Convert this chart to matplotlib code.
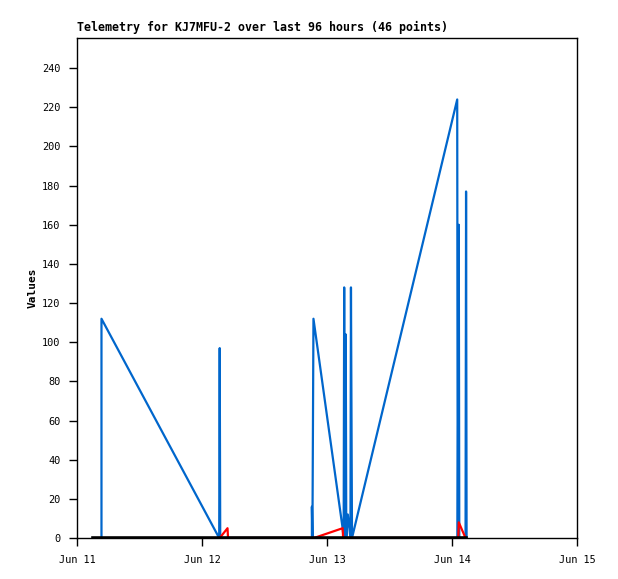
import matplotlib
matplotlib.use("Agg")
import matplotlib.pyplot as plt

title = "Telemetry for KJ7MFU-2 over last 96 hours (46 points)"
tick_hours = [0, 24, 48, 72, 96]
tick_labels = ["Jun 11", "Jun 12", "Jun 13", "Jun 14", "Jun 15"]
y_ticks = list(range(0, 241, 20))

# hours since Jun 11 00:00
blue_hours = [4.7, 4.7, 27.3, 27.4, 27.5, 45.1, 45.1, 45.2, 45.4, 51.0, 51.2,
              51.3, 51.4, 51.6, 51.7, 52.0, 52.5, 52.6, 52.8, 73.0, 73.1,
              73.3, 73.4, 74.6, 74.7, 74.8]
blue_values = [0, 112, 0, 97, 0, 0, 16, 0, 112, 5, 0,
               128, 0, 104, 0, 12, 0, 128, 0, 224, 0,
               160, 0, 0, 177, 0]

red_hours = [27.4, 28.9, 29.0, 45.5, 51.0, 51.1, 73.2, 73.3, 74.6]
red_values = [0, 5, 0, 0, 5, 0, 0, 8, 0]

black_hours = [3.0, 74.6]
black_values = [0, 0]

W, H = 618, 579
fig = plt.figure(figsize=(W / 100, H / 100), dpi=100)
ax = fig.add_axes([77 / W, 1 - 538 / H, 500 / W, 500 / H])

ax.plot(blue_hours, blue_values, color="#0066cc", lw=1.6, zorder=2)
ax.plot(red_hours, red_values, color="#ff0000", lw=1.6, zorder=3)
ax.plot(black_hours, black_values, color="#000000", lw=2.6, zorder=4)

ax.set_xlim(0, 96)
ax.set_ylim(0, 255.4)
ax.set_xticks(tick_hours)
ax.set_xticklabels(tick_labels)
ax.set_yticks(y_ticks)
ax.tick_params(direction="out", length=6, width=1, colors="black",
               labelsize=7.4, pad=6)
for lab in ax.get_xticklabels() + ax.get_yticklabels():
    lab.set_fontfamily("DejaVu Sans Mono")
for s in ax.spines.values():
    s.set_linewidth(1)
    s.set_color("black")

ax.set_ylabel("Values", fontfamily="DejaVu Sans Mono", fontweight="bold",
              fontsize=8, labelpad=3)
fig.text(77 / W, 1 - 31 / H, title, fontfamily="DejaVu Sans Mono",
         fontweight="bold", fontsize=8.4, ha="left", va="baseline")

fig.savefig("out.png", dpi=100, facecolor="white")
